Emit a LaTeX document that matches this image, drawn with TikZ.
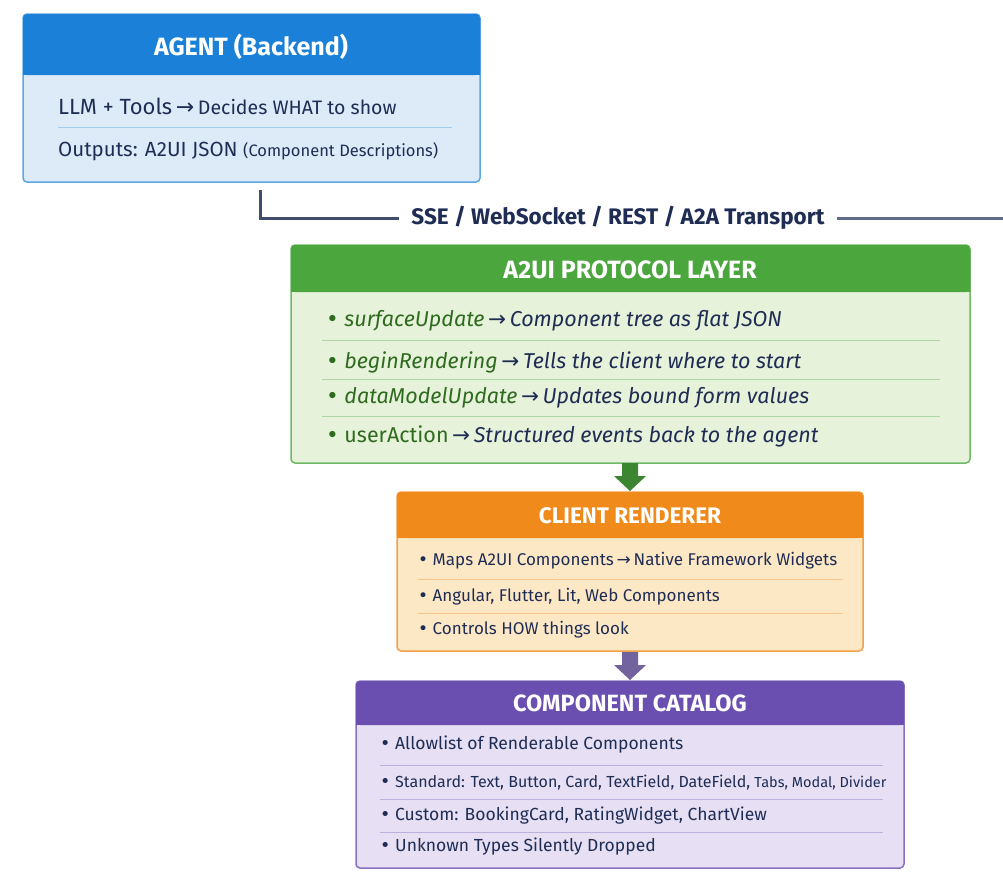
\documentclass[tikz,border=0pt]{standalone}
\usepackage{fontspec}
\setmainfont{Fira Sans}
\newfontfamily\arr{DejaVu Sans}
\definecolor{navy}{HTML}{1F2D55}
\definecolor{bluH}{HTML}{1A80D8}\definecolor{bluB}{HTML}{DDEBF8}
\definecolor{grnH}{HTML}{4BA63D}\definecolor{grnB}{HTML}{E7F2DA}\definecolor{grnT}{HTML}{2E6B1F}
\definecolor{orgH}{HTML}{F08A1A}\definecolor{orgB}{HTML}{FDE8C6}
\definecolor{purH}{HTML}{6A4FB0}\definecolor{purB}{HTML}{E7DFF3}
\newcommand{\ar}{{\arr\,→\,}}
\newcommand{\bul}{{\arr •}\ }
\begin{document}
\begin{tikzpicture}[x=1pt,y=-1pt,
  txt/.style={anchor=west,text=navy,inner sep=0pt},
  head/.style={text=white,font=\bfseries\fontsize{25}{28}\selectfont},
  sep/.style={line width=0.8pt}]
\useasboundingbox (0,0) rectangle (1003,892);
% Agent
\fill[bluB,draw=bluH!70,line width=1.5pt,rounded corners=4pt] (23,14) rectangle (480,182);
\fill[bluH,rounded corners=4pt] (23,14) rectangle (480,75);
\fill[bluH] (23,50) rectangle (480,75);
\node[head] (agent) at (251,47) {AGENT (Backend)};
\node[txt,font=\fontsize{22}{26}\selectfont] (a1) at (58,106) {LLM + Tools\ar\fontsize{19.5}{22}\selectfont Decides WHAT to show};
\draw[sep,bluH!40] (58,127) -- (452,127);
\node[txt,font=\fontsize{20.5}{24}\selectfont] (a2) at (58,151) {Outputs: A2UI JSON {\fontsize{16.5}{19}\selectfont(Component Descriptions)}};
% transport
\node[text=navy,font=\bfseries\fontsize{22.5}{26}\selectfont,inner xsep=12pt] (tr) at (618,218) {SSE / WebSocket / REST / A2A Transport};
\coordinate (tr0) at (260,190);
\coordinate (tre) at (1003,218);
\draw[navy!85,line width=3pt] (tr0) |- (tr.west);
\draw[navy!70,line width=3pt] (tr.east) -- (tre);
% Protocol
\fill[grnB,draw=grnH!80,line width=1.5pt,rounded corners=4pt] (291,245) rectangle (970,463);
\fill[grnH,rounded corners=4pt] (291,245) rectangle (970,292);
\fill[grnH] (291,270) rectangle (970,292);
\node[head] (proto) at (630,270) {A2UI PROTOCOL LAYER};
\begin{scope}[font=\itshape\fontsize{21.5}{25}\selectfont]
\node[txt] (p1) at (326,321) {\textcolor{grnT}{\bul surfaceUpdate}\ar Component tree as flat JSON};
\node[txt] (p2) at (326,362) {\textcolor{grnT}{\bul beginRendering}\ar Tells the client where to start};
\node[txt] (p3) at (326,398) {\textcolor{grnT}{\bul dataModelUpdate}\ar Updates bound form values};
\node[txt] (p4) at (326,436) {\textcolor{grnT}{\bul \upshape userAction}\ar Structured events back to the agent};
\end{scope}
\foreach \y in {340,379,416} \draw[sep,grnH!45] (322,\y) -- (940,\y);
% block arrows
\fill[grnH!80!black] (622,463) -- (638,463) -- (638,476) -- (646,476) -- (630,491) -- (614,476) -- (622,476) -- cycle;
\fill[purH!60!gray] (622,651) -- (638,651) -- (638,665) -- (646,665) -- (630,680) -- (614,665) -- (622,665) -- cycle;
% Client
\fill[orgB,draw=orgH!80,line width=1.5pt,rounded corners=4pt] (397,492) rectangle (863,651);
\fill[orgH,rounded corners=4pt] (397,492) rectangle (863,538);
\fill[orgH] (397,515) rectangle (863,538);
\node[head,font=\bfseries\fontsize{22.5}{26}\selectfont] (client) at (630,516) {CLIENT RENDERER};
\begin{scope}[font=\fontsize{17}{20}\selectfont]
\node[txt] (c1) at (418,561) {\bul Maps A2UI Components\ar Native Framework Widgets};
\node[txt] (c2) at (418,597) {\bul Angular, Flutter, Lit, Web Components};
\node[txt] (c3) at (418,630) {\bul Controls HOW things look};
\end{scope}
\foreach \y in {579,613} \draw[sep,orgH!50] (418,\y) -- (843,\y);
% Catalog
\fill[purB,draw=purH!80,line width=1.5pt,rounded corners=4pt] (356,681) rectangle (904,868);
\fill[purH,rounded corners=4pt] (356,681) rectangle (904,725);
\fill[purH] (356,703) rectangle (904,725);
\node[head,font=\bfseries\fontsize{23.5}{27}\selectfont] (cat) at (630,703) {COMPONENT CATALOG};
\begin{scope}[font=\fontsize{17.5}{20}\selectfont]
\node[txt] (k1) at (380,745) {\bul Allowlist of Renderable Components};
\node[txt] (k2) at (380,783) {\bul {\fontsize{16}{19}\selectfont Standard: Text, Button, Card, TextField, DateField, \fontsize{14.5}{17}\selectfont Tabs, Modal, Divider}};
\node[txt] (k3) at (380,816) {\bul Custom: BookingCard, RatingWidget, ChartView};
\node[txt] (k4) at (380,847) {\bul Unknown Types Silently Dropped};
\end{scope}
\foreach \y in {765,799,832} \draw[sep,purH!45] (380,\y) -- (883,\y);
\end{tikzpicture}
\end{document}
